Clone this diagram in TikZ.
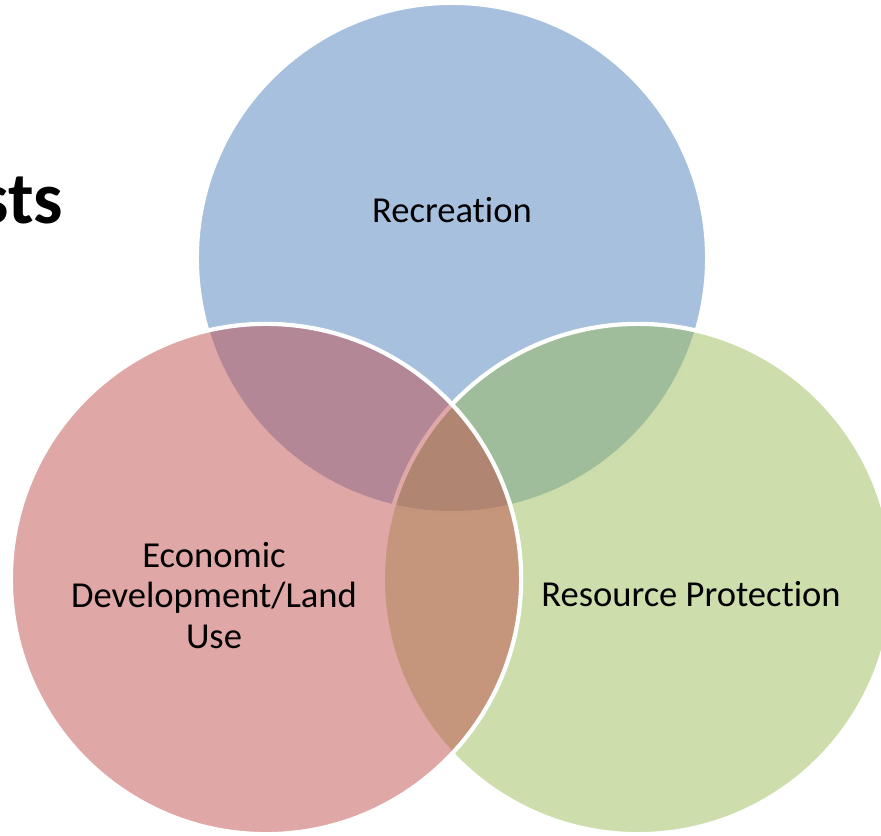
\documentclass[tikz,border=0pt]{standalone}
\usepackage{fontspec}
\setmainfont{Carlito}[Ligatures=NoCommon]
\usepackage{tikz}
\usetikzlibrary{positioning}
\definecolor{recblue}{HTML}{4F81BD}
\definecolor{devred}{HTML}{C0504D}
\definecolor{protgreen}{HTML}{9BBB59}

\begin{document}
\begin{tikzpicture}[
  x=0.01cm, y=-0.01cm,
  venn/.style={circle, draw=white, line width=1.2pt,
    minimum size=5.1cm, inner sep=0pt, outer sep=0pt,
    fill opacity=0.5, draw opacity=1},
  label/.style={font=\fontsize{10.4}{11.5}\selectfont,
    align=center, anchor=base, inner sep=0pt},
]
  \useasboundingbox (0,0) rectangle (881,835);

  % circles: blue first, then green, red on top
  \node[venn, fill=recblue]   (rec)  at (452,258) {};
  \node[venn, fill=protgreen] (prot) at (638,579) {};
  \node[venn, fill=devred]    (dev)  at (266,579) {};

  \node[label] (rectext)  at (452,222) {Recreation};
  \node[label] (devtext)  at (214,648) {Economic\\Development/Land\\Use};
  \node[label] (prottext) at (691,606) {Resource Protection};

  % cut-off title on the left
  \node[font=\fontsize{21}{25}\selectfont\bfseries, anchor=base east,
    inner sep=0pt] (title) at (64,223) {sts};
\end{tikzpicture}
\end{document}
